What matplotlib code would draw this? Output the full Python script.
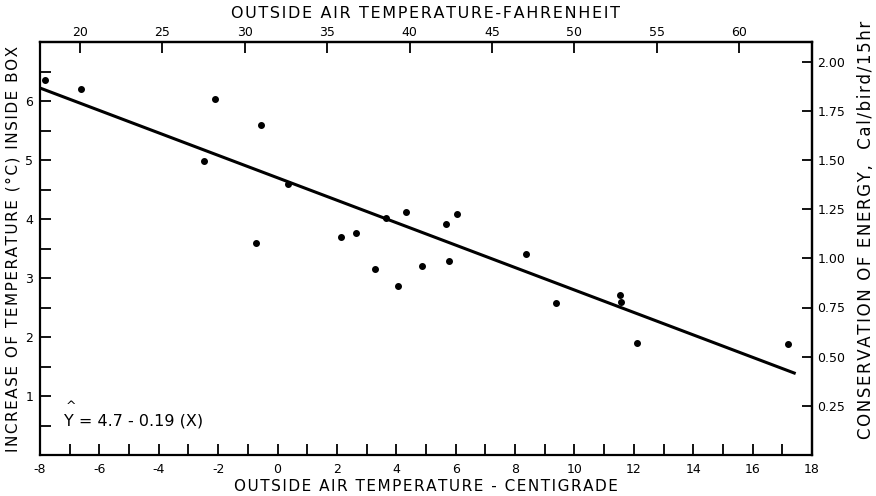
import matplotlib
matplotlib.use("Agg")
import matplotlib.pyplot as plt
from matplotlib.ticker import MultipleLocator, FixedLocator

# observed points: outside air temp (C) vs increase of temp inside box (C)
temp_c = [-7.83, -6.61, -2.09, -0.56, -2.47, 0.34, -0.72, 2.15, 2.64, 3.66,
          4.32, 3.27, 4.07, 4.86, 5.67, 6.03, 5.76, 8.37, 9.38, 11.55, 11.58,
          12.11, 17.18]
increase = [6.35, 6.21, 6.03, 5.59, 4.98, 4.60, 3.60, 3.70, 3.77, 4.02,
            4.12, 3.16, 2.87, 3.20, 3.91, 4.09, 3.28, 3.40, 2.57, 2.72, 2.59,
            1.89, 1.88]

# fitted line end points (Y = 4.7 - 0.19 X)
fit_x = [-8.0, 17.45]
fit_y = [6.22, 1.38]

bottom_ticks = [-8, -6, -4, -2, 0, 2, 4, 6, 8, 10, 12, 14, 16, 18]
left_ticks = [1, 2, 3, 4, 5, 6]
top_ticks = [20, 25, 30, 35, 40, 45, 50, 55, 60]
right_ticks = [0.25, 0.50, 0.75, 1.00, 1.25, 1.50, 1.75, 2.00]

CAL_PER_DEG = 0.3  # right axis scale factor

plt.rcParams['font.family'] = 'DejaVu Sans'
plt.rcParams['axes.unicode_minus'] = False


def spaced(s):
    # lettering in the original is spread out a bit
    return '\u200a'.join(s)


fig = plt.figure(figsize=(8.76, 4.96), dpi=100)
ax = fig.add_axes([40 / 876, 1 - 455 / 496, 772 / 876, 413 / 496])

ax.plot(fit_x, fit_y, color='black', lw=2.2, solid_capstyle='butt')
ax.scatter(temp_c, increase, s=16, color='black', zorder=3)

ax.set_xlim(-8, 18)
ax.set_ylim(0, 7)

ax.xaxis.set_major_locator(FixedLocator(bottom_ticks))
ax.xaxis.set_minor_locator(MultipleLocator(1))
ax.yaxis.set_major_locator(FixedLocator(left_ticks))
ax.yaxis.set_minor_locator(MultipleLocator(0.5))
ax.tick_params(which='both', direction='in', length=8, width=1.3,
               labelsize=9, top=False, right=False)
ax.tick_params(axis='x', pad=6)
ax.tick_params(axis='y', pad=5)

for sp in ax.spines.values():
    sp.set_linewidth(1.6)

ax.set_xlabel(spaced('OUTSIDE AIR TEMPERATURE - CENTIGRADE'), fontsize=11,
              labelpad=2)
ax.set_ylabel(spaced('INCREASE OF TEMPERATURE (°C) INSIDE BOX'), fontsize=11,
              labelpad=3)

# top axis in Fahrenheit
top = ax.secondary_xaxis('top', functions=(lambda c: c * 9 / 5 + 32,
                                           lambda f: (f - 32) * 5 / 9))
top.xaxis.set_major_locator(FixedLocator(top_ticks))
top.tick_params(direction='in', length=8, width=1.3, labelsize=9, pad=2)
top.spines['top'].set_linewidth(1.6)
top.set_xlabel(spaced('OUTSIDE AIR TEMPERATURE-FAHRENHEIT'), fontsize=11.5,
               labelpad=6)

# right axis: conservation of energy
right = ax.secondary_yaxis('right', functions=(lambda y: y * CAL_PER_DEG,
                                               lambda e: e / CAL_PER_DEG))
right.yaxis.set_major_locator(FixedLocator(right_ticks))
right.yaxis.set_major_formatter(lambda v, p: f'{v:.2f}')
right.tick_params(direction='in', length=7, width=1.3, labelsize=9, pad=4)
right.spines['right'].set_linewidth(1.6)
fig.text(866 / 876, 1 - 230 / 496,
         spaced('CONSERVATION OF ENERGY,  Cal/bird/15hr'),
         fontsize=12, rotation=90, ha='center', va='center')

# regression equation
ax.text(-7.2, 0.58, 'Y = 4.7 - 0.19 (X)', fontsize=11.5, va='center',
        ha='left')
ax.text(-7.15, 0.82, '^', fontsize=9, va='center', ha='left')

fig.savefig('out.png', dpi=100)
